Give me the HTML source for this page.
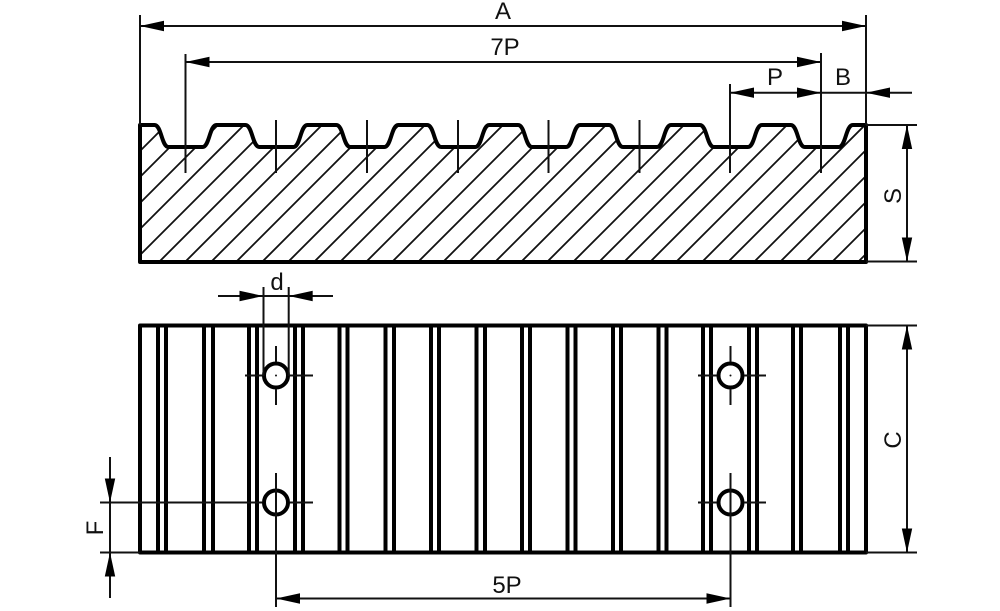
<!DOCTYPE html>
<html>
<head>
<meta charset="utf-8">
<style>
html,body{margin:0;padding:0;background:#fff;}
svg{display:block;}
text{font-family:"Liberation Sans",sans-serif;font-size:24px;fill:#111;text-anchor:middle;}
</style>
</head>
<body>
<svg width="1000" height="611" viewBox="0 0 1000 611" xmlns="http://www.w3.org/2000/svg">
<defs>
<clipPath id="sec"><path d="M140 125H154.500c7 0 7 22 14 22h34c7 0 7-22 14-22h28.900c7 0 7 22 14 22h34c7 0 7-22 14-22h28.900c7 0 7 22 14 22h34c7 0 7-22 14-22h28.900c7 0 7 22 14 22h34c7 0 7-22 14-22h28.900c7 0 7 22 14 22h34c7 0 7-22 14-22h28.900c7 0 7 22 14 22h34c7 0 7-22 14-22h28.900c7 0 7 22 14 22h34c7 0 7-22 14-22h28.900c7 0 7 22 14 22h34c7 0 7-22 14-22H866V262H140Z"/></clipPath>
<line id="h" x1="-262" y1="262" x2="-120" y2="120" stroke="#111" stroke-width="1.8"/>
<path id="ar" d="M0 0L-24 -5.2V5.2Z" fill="#000"/>
</defs>

<!-- hatching -->
<g clip-path="url(#sec)">
<use href="#h" x="291"/><use href="#h" x="317"/><use href="#h" x="343"/><use href="#h" x="369"/>
<use href="#h" x="395"/><use href="#h" x="421"/><use href="#h" x="447"/><use href="#h" x="473"/><use href="#h" x="498"/><use href="#h" x="524"/><use href="#h" x="550"/><use href="#h" x="576"/><use href="#h" x="602"/><use href="#h" x="628"/><use href="#h" x="654"/><use href="#h" x="680"/><use href="#h" x="705"/><use href="#h" x="731"/><use href="#h" x="757"/><use href="#h" x="783"/><use href="#h" x="809"/><use href="#h" x="835"/><use href="#h" x="861"/><use href="#h" x="886"/><use href="#h" x="912"/><use href="#h" x="938"/><use href="#h" x="964"/><use href="#h" x="990"/>
<use href="#h" x="1016"/><use href="#h" x="1042"/><use href="#h" x="1068"/><use href="#h" x="1094"/><use href="#h" x="1120"/>
</g>

<!-- section outline -->
<path d="M140 125H154.500c7 0 7 22 14 22h34c7 0 7-22 14-22h28.900c7 0 7 22 14 22h34c7 0 7-22 14-22h28.900c7 0 7 22 14 22h34c7 0 7-22 14-22h28.900c7 0 7 22 14 22h34c7 0 7-22 14-22h28.900c7 0 7 22 14 22h34c7 0 7-22 14-22h28.900c7 0 7 22 14 22h34c7 0 7-22 14-22h28.900c7 0 7 22 14 22h34c7 0 7-22 14-22h28.900c7 0 7 22 14 22h34c7 0 7-22 14-22H866V262H140Z" fill="none" stroke="#000" stroke-width="4" stroke-linejoin="round"/>

<!-- thin lines upper -->
<g stroke="#111" stroke-width="2" fill="none">
<path d="M140 15V125M866 15V125"/>
<path d="M140 26H866"/>
<path d="M185.500 54V173M276 120V173M367 120V173M458 120V173M548.500 120V173M639.500 120V173M730 84V173M821 53V173"/>
<path d="M185.500 62H821"/>
<path d="M730 92.700H912"/>
<path d="M866 125H917M866 261.500H917M907 125V261.500"/>
</g>

<!-- plan view -->
<g stroke="#000" stroke-width="4" fill="none">
<path d="M158 325V552M166 325V552M204 325V552M213 325V552M249 325V552M257 325V552M295 325V552M303 325V552M339.500 325V552M347.500 325V552M385.500 325V552M394 325V552M431 325V552M439 325V552M476.500 325V552M485 325V552M522 325V552M530 325V552M567.500 325V552M575.500 325V552M613 325V552M621 325V552M658.500 325V552M666.500 325V552M703 325V552M711 325V552M749 325V552M757 325V552M793 325V552M801 325V552M840 325V552M848 325V552"/>
<rect x="140" y="325.500" width="726" height="227" stroke-linejoin="round"/>
</g>

<!-- holes -->
<g fill="#fff" stroke="#000" stroke-width="4">
<circle cx="276" cy="375.500" r="12"/><circle cx="276" cy="502.500" r="12"/><circle cx="730.500" cy="375.500" r="12"/><circle cx="730.500" cy="502.500" r="12"/>
</g>

<!-- thin lines lower -->
<g stroke="#111" stroke-width="2" fill="none">
<path d="M245 375.500H262M290 375.500H313M276 346V362M276 389V405M698 375.500H717M744 375.500H766M730.500 346V362M730.500 389V405"/>
<path d="M100 502.500H262M290 502.500H313M276 473V607M698 502.500H717M744 502.500H766M730.500 473V607"/>
<path d="M100 552.500H140M110 457V598"/>
<path d="M276 598.500H730.500"/>
<path d="M218 296H333M263.500 287V376M288.700 287V376"/>
<path d="M866 325.500H917M866 552.500H917M907 325.500V552.500"/>
</g>
<g fill="#111">
<circle cx="276" cy="375.500" r="1"/><circle cx="730.500" cy="375.500" r="1"/>
</g>

<!-- arrowheads -->
<use href="#ar" transform="translate(140 26) rotate(180)"/>
<use href="#ar" transform="translate(866 26)"/>
<use href="#ar" transform="translate(185.500 62) rotate(180)"/>
<use href="#ar" transform="translate(821 62)"/>
<use href="#ar" transform="translate(730 92.700) rotate(180)"/>
<use href="#ar" transform="translate(821 92.700)"/>
<use href="#ar" transform="translate(866 92.700) rotate(180)"/>
<use href="#ar" transform="translate(907 125) rotate(-90)"/>
<use href="#ar" transform="translate(907 261.500) rotate(90)"/>
<use href="#ar" transform="translate(907 325.500) rotate(-90)"/>
<use href="#ar" transform="translate(907 552.500) rotate(90)"/>
<use href="#ar" transform="translate(263.500 296)"/>
<use href="#ar" transform="translate(288.700 296) rotate(180)"/>
<use href="#ar" transform="translate(110 502.500) rotate(90)"/>
<use href="#ar" transform="translate(110 552.500) rotate(-90)"/>
<use href="#ar" transform="translate(276 598.500) rotate(180)"/>
<use href="#ar" transform="translate(730.500 598.500)"/>

<!-- labels -->
<text x="503" y="19">A</text>
<text x="505" y="55">7P</text>
<text x="775" y="85">P</text>
<text x="843" y="85">B</text>
<text x="277" y="290">d</text>
<text x="507" y="593">5P</text>
<text transform="translate(901 196) rotate(-90)">S</text>
<text transform="translate(901 440) rotate(-90)">C</text>
<text transform="translate(103 528) rotate(-90)">F</text>
</svg>
</body>
</html>
